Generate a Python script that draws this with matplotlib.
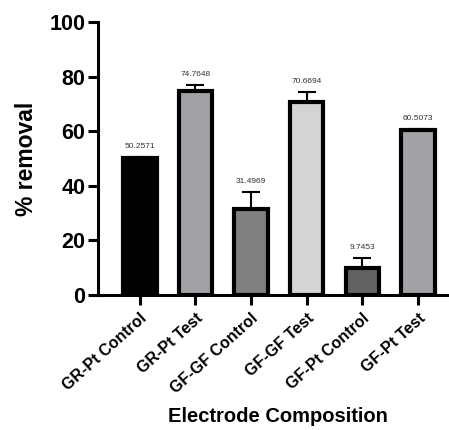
import matplotlib
matplotlib.use('Agg')
import matplotlib.pyplot as plt

labels = ['GR-Pt Control', 'GR-Pt Test', 'GF-GF Control', 'GF-GF Test', 'GF-Pt Control', 'GF-Pt Test']
means = [50.2571, 74.7648, 31.4969, 70.6694, 9.7453, 60.5073]
errs = [0.3, 2.2, 6.2, 3.7, 3.9, 0.3]
colors = ['#000000', '#a2a2a6', '#808080', '#d4d4d4', '#626262', '#a2a2a6']

plt.rcParams['font.family'] = ['Liberation Sans', 'DejaVu Sans']

fig = plt.figure(figsize=(4.49, 4.30), dpi=100)
ax = fig.add_axes([0.218, 0.314, 0.782, 0.635])

x = range(len(labels))
ax.bar(x, means, width=0.6, color=colors, edgecolor='black', linewidth=3.0, zorder=3)
ax.errorbar(x, means, yerr=[[0]*len(errs), errs], fmt='none', ecolor='black',
            elinewidth=1.5, capsize=6.5, capthick=1.5, zorder=2)

for i, (m, e) in enumerate(zip(means, errs)):
    ax.annotate(f'{m:.4f}', (i, m + e), xytext=(0, 5), textcoords='offset points',
                ha='center', va='bottom', fontsize=6, color='#333333')

ax.set_xlim(-0.755, 5.56)
ax.set_ylim(0, 100)
ax.set_yticks([0, 20, 40, 60, 80, 100])
ax.set_xticks(list(x))
ax.set_xticklabels(labels, rotation=42, ha='right', rotation_mode='anchor',
                   fontsize=11.5, fontweight='bold')
for lbl in ax.get_yticklabels():
    lbl.set_fontweight('bold')
ax.tick_params(axis='y', labelsize=15.5, width=2.2, length=7, pad=2)
ax.tick_params(axis='x', width=2.2, length=7, pad=4)

for s in ['top', 'right']:
    ax.spines[s].set_visible(False)
for s in ['left', 'bottom']:
    ax.spines[s].set_linewidth(2.2)

ax.set_ylabel('% removal', fontsize=16.5, fontweight='bold', labelpad=8)
# x-axis title sits near the bottom edge, under the rotated labels
fig.text(0.62, 0.01, 'Electrode Composition', fontsize=14.5, fontweight='bold',
         ha='center', va='bottom')

fig.savefig('out.png', dpi=100)
